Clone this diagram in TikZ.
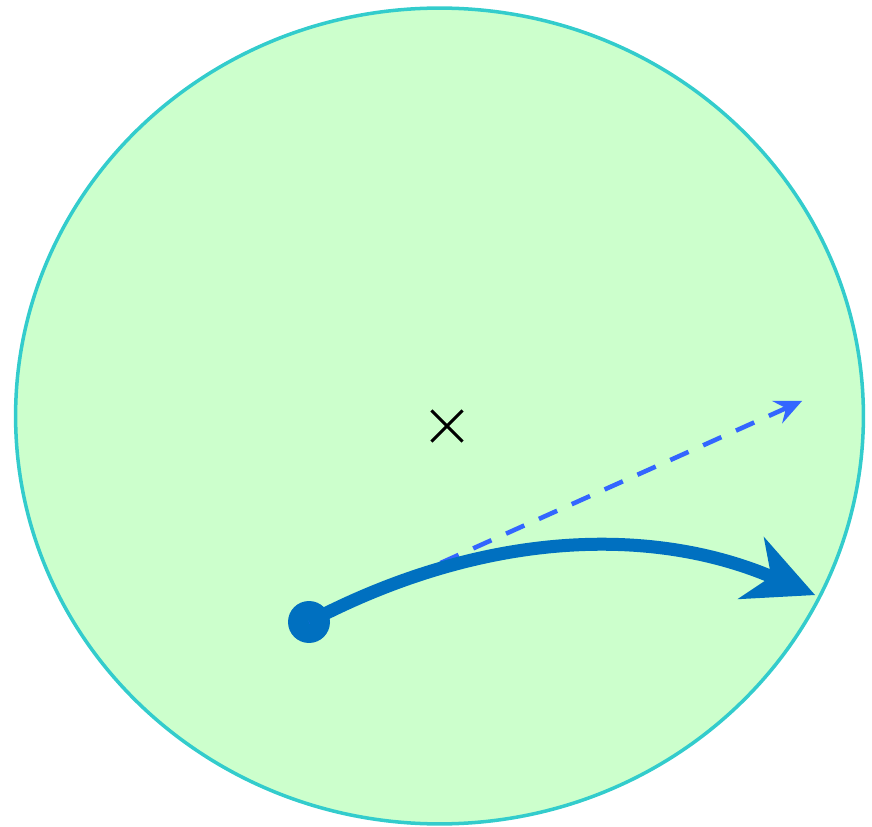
\documentclass[tikz,border=0pt]{standalone}
\usepackage{tikz}
\usetikzlibrary{shapes.geometric, shapes.misc, arrows.meta, positioning}

\definecolor{discfill}{HTML}{CCFFCC}
\definecolor{discline}{HTML}{33CCCC}
\definecolor{pathblue}{HTML}{0070C0}
\definecolor{aimblue}{HTML}{3366FF}

\begin{document}
\begin{tikzpicture}[
    x=0.02cm, y=-0.02cm,
    disc/.style={draw=discline, fill=discfill, ellipse, line width=2pt, minimum width=16.96cm, minimum height=16.32cm, inner sep=0pt},
    centremark/.style={draw=black, cross out, line width=1.8pt, minimum size=0.56cm, inner sep=0pt},
    dot/.style={circle, fill=pathblue, minimum size=0.84cm, inner sep=0pt},
    aimarr/.style={-{Stealth[length=0.55cm, width=0.5cm, inset=0.2cm, line width=0pt]}, aimblue, line width=2.6pt, dash pattern=on 0.4cm off 0.32cm},
    patharr/.style={-{Stealth[length=1.4cm, width=1.36cm, inset=0.45cm, line width=0pt]}, pathblue, line width=7.4pt}
]
\useasboundingbox (0,0) rectangle (872,827);

% disc and its centre
\node[disc] (disc) at (439.5,416) {};
\node[centremark] (centre) at (447,426) {};

% start point and the two directions
\node[dot] (start) at (309,622) {};
\coordinate (aim) at (802,401);
\coordinate (end) at (815,595);

\draw[aimarr] (start.center) -- (aim);
\draw[patharr] (start.center) .. controls (478,533) and (646,524) .. (end);

\end{tikzpicture}
\end{document}
